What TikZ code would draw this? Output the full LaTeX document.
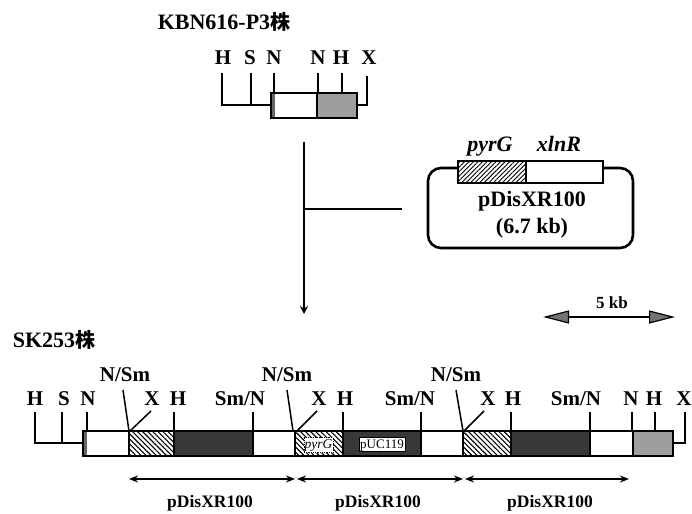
\documentclass[tikz,border=0pt]{standalone}
\usepackage{fontspec}
\setmainfont{Liberation Serif}
\newfontfamily\cjk{Noto Sans CJK SC}
\usetikzlibrary{arrows.meta,patterns.meta}

\begin{document}
\begin{tikzpicture}[x=1pt,y=-1pt,line width=1.5,>=Stealth,
  site/.style={font=\fontsize{21}{23}\selectfont\bfseries,inner sep=0},
  strain/.style={font=\fontsize{22}{24}\selectfont\bfseries,inner sep=0},
  gene/.style={font=\fontsize{22}{24}\selectfont\bfseries\itshape,inner sep=0,anchor=base},
  plas/.style={font=\fontsize{17.5}{20}\selectfont\bfseries,inner sep=0},
  darkseg/.style={fill=black!78},
  graybox/.style={fill=black!38},
  hatchseg/.style={pattern={Lines[angle=-45,distance=3.6pt,line width=1.1pt]}},
  span/.style={line width=1.4,{Stealth[length=9pt,width=7pt]}-{Stealth[length=9pt,width=7pt]}},
  scalearr/.style={line width=1.2,{Triangle[length=26pt,width=13pt,fill=black!55]}-{Triangle[length=26pt,width=13pt,fill=black!55]}}]
\useasboundingbox (0,0) rectangle (692,513);
% ---------- parent strain ----------
\node[strain] (kbn) at (224,22) {KBN616-P3{\cjk\fontsize{20}{22}\selectfont 株}};
\foreach \x/\t/\n in {223/H/a,250/S/b,274/N/c,318/N/d,341/H/e,369/X/f}{
  \node[site] (top\n) at (\x,58) {\t}; }
\draw[fill=white] (271,93) rectangle (357,118);
\fill[black!60] (271,93) rectangle (275,118);
\draw[graybox] (317,93) rectangle (357,118);
\draw (271,93) rectangle (357,118);
\draw (222,73) -- (222,105) -- (271,105);
\draw (251,73) -- (251,105);
\foreach \x in {274,318,342}{ \draw (\x,73) -- (\x,93); }
\draw (367,76) -- (367,105) -- (357,105);
% ---------- integration arrow ----------
\coordinate (flowtop) at (304,142);
\coordinate (flowend) at (304,314);
\coordinate (flowjoin) at (304,209);
\coordinate (plasin) at (402,209);
\draw[-{Stealth[length=8pt,width=8pt]}] (flowtop) -- (flowend);
\draw (plasin) -- (flowjoin);
% ---------- plasmid ----------
\draw[line width=2.6,rounded corners=13] (428,168) rectangle (633,248);
\draw[fill=white] (458,161) rectangle (603,183);
\draw[pattern={Lines[angle=45,distance=3.2pt,line width=0.9pt]}] (458,161) rectangle (526,183);
\node[gene] (pyrgtop) at (490,151) {pyrG};
\node[gene] (xlnrtop) at (559,151) {xlnR};
\node[strain] (plasname) at (532,201) {pDisXR100};
\node[strain] (plassize) at (532,228) {(6.7 kb)};
% ---------- scale ----------
\coordinate (scaleL) at (543,317);
\coordinate (scaleR) at (675,317);
\draw[scalearr] (scaleL) -- (scaleR);
\node[font=\fontsize{17}{19}\selectfont\bfseries,inner sep=0] (scalelab) at (612,303) {5 kb};
% ---------- integrant strain ----------
\node[strain] (sk) at (54,340) {SK253{\cjk\fontsize{20}{22}\selectfont 株}};
\foreach \x/\t/\n in {35/H/a,64/S/b,88/N/c,152/X/e,178/H/f,319/X/i,345/H/j,
  488/X/m,513/H/n,631/N/p,654/H/q,684/X/r}{
  \node[site] (bot\n) at (\x,399) {\t}; }
\foreach \x/\n in {125/d,287/h,456/l}{ \node[site] (bot\n) at (\x,375) {N/Sm}; }
\foreach \x/\n in {240/g,410/k,576/o}{ \node[site] (bot\n) at (\x,399) {Sm/N}; }
% segments
\draw[fill=white] (83,431) rectangle (673,456);
\fill[black!60] (83,431) rectangle (87,456);
\foreach \xa/\xb in {129/174,295/343,463/511}{ \draw[hatchseg] (\xa,431) rectangle (\xb,456); }
\foreach \xa/\xb in {174/253,343/421,511/590}{ \draw[darkseg] (\xa,431) rectangle (\xb,456); }
\draw[graybox] (633,431) rectangle (673,456);
\draw (83,431) rectangle (673,456);
\node[draw,densely dotted,line width=0.8,fill=white,minimum width=29pt,minimum height=15pt,inner sep=0,
  text height=9pt,text depth=3pt,font=\fontsize{13.5}{15}\selectfont\itshape] (pyrgin) at (318.5,445) {pyrG};
\node[draw,line width=0.8,fill=white,minimum width=46pt,minimum height=14pt,inner sep=0,
  text height=9pt,text depth=1pt,font=\fontsize{13}{15}\selectfont] (pucin) at (382,444) {pUC119};
% ticks
\draw (35,412) -- (35,443) -- (83,443);
\draw (62,412) -- (62,443);
\foreach \x in {87,174,253,343,421,511,590,632,655}{ \draw (\x,412) -- (\x,431); }
\draw (685,412) -- (685,443) -- (673,443);
\foreach \xa/\xb/\xc/\xd in {123/129/130/151,287/293/297/317,456/463/464/484}{
  \draw (\xa,390) -- (\xb,431);
  \draw (\xc,431) -- (\xd,411);}
% spans
\foreach \xa/\xb/\xl/\n in {129/295/210/a,297/463/378/b,465/629/550/c}{
  \coordinate (span\n L) at (\xa,479);
  \coordinate (span\n R) at (\xb,479);
  \draw[span] (span\n L) -- (span\n R);
  \node[plas] (spanlab\n) at (\xl,503) {pDisXR100};}
\end{tikzpicture}
\end{document}
